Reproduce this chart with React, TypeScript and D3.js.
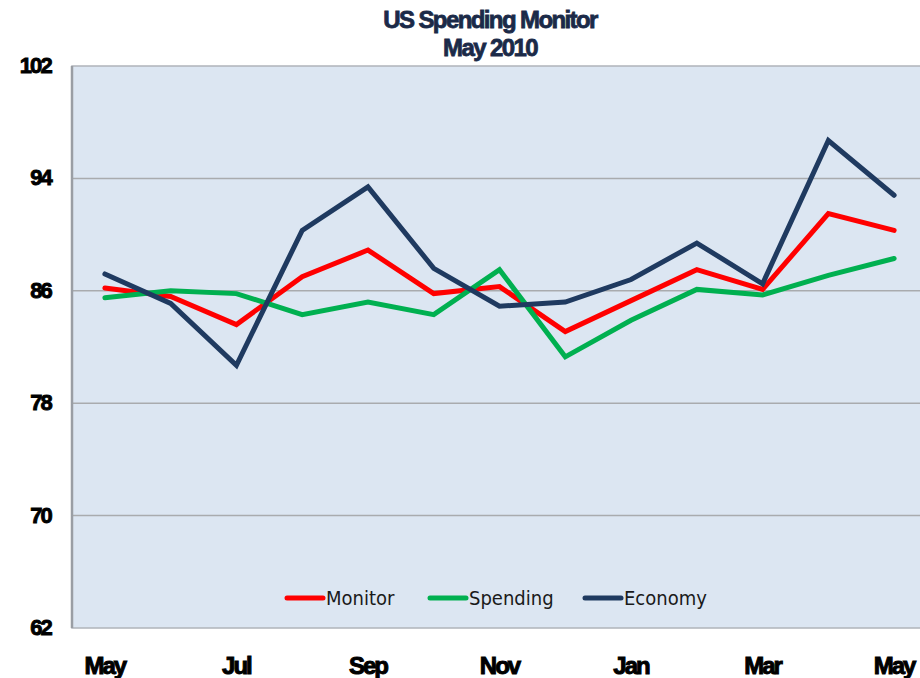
import * as d3 from "d3";

const months = ["May-09", "Jun-09", "Jul-09", "Aug-09", "Sep-09", "Oct-09", "Nov-09", "Dec-09", "Jan-10", "Feb-10", "Mar-10", "Apr-10", "May-10"];
const tickMonths = ["May-09", "Jul-09", "Sep-09", "Nov-09", "Jan-10", "Mar-10", "May-10"];
const monitor = [86.2, 85.6, 83.6, 87.0, 88.9, 85.8, 86.3, 83.1, 85.3, 87.5, 86.1, 91.5, 90.3];
const spending = [85.5, 86.0, 85.8, 84.3, 85.2, 84.3, 87.5, 81.3, 83.9, 86.1, 85.7, 87.1, 88.3];
const economy = [87.2, 85.1, 80.7, 90.3, 93.4, 87.6, 84.9, 85.2, 86.8, 89.4, 86.5, 96.7, 92.8];
const yTicks = [62, 70, 78, 86, 94, 102];

const series = [
  { name: "Monitor", values: monitor, color: "#ff0000" },
  { name: "Spending", values: spending, color: "#00b050" },
  { name: "Economy", values: economy, color: "#1f3a60" },
];

const heavy = "Liberation Sans, Arial, sans-serif";

export default function App() {
  const W = 920, H = 678;
  const left = 72, right = 927, top = 66, bottom = 628;

  const x = d3.scalePoint<string>().domain(months).range([left, right]).padding(0.5);
  const y = d3.scaleLinear().domain([62, 102]).range([bottom, top]);
  const line = d3.line<number>()
    .x((_, i) => x(months[i]) as number)
    .y((d) => y(d));

  const legendItems = [
    { x: 287, textX: 326 },
    { x: 430, textX: 469 },
    { x: 585, textX: 624 },
  ];

  return (
    <svg width={W} height={H} style={{ position: "absolute", left: 0, top: 0, background: "#fff" }}>
      <text x={490} y={28} textAnchor="middle" fontFamily={heavy} fontWeight="bold" fontSize={24}
        letterSpacing={-1.6} fill="#1b2a48" stroke="#1b2a48" strokeWidth={0.8}>US Spending Monitor</text>
      <text x={490} y={56} textAnchor="middle" fontFamily={heavy} fontWeight="bold" fontSize={24}
        letterSpacing={-1.6} fill="#1b2a48" stroke="#1b2a48" strokeWidth={0.8}>May 2010</text>

      <rect x={left} y={top} width={right - left} height={bottom - top} fill="#dce6f2" stroke="#b0b4ba" strokeWidth={1.5} />

      {yTicks.map((t) => (
        <g key={t}>
          {t !== 62 && t !== 102 && (
            <line x1={left} x2={right} y1={y(t)} y2={y(t)} stroke="#a9abae" strokeWidth={1.5} />
          )}
          <text x={51} y={y(t) + 7} textAnchor="end" fontFamily={heavy} fontWeight="bold" fontSize={22}
            letterSpacing={-1.8} fill="#000" stroke="#000" strokeWidth={0.9}>{t}</text>
        </g>
      ))}
      <line x1={left} x2={left} y1={top} y2={bottom} stroke="#9a9ea4" strokeWidth={2.5} />

      {tickMonths.map((m) => (
        <text key={m} x={x(m) as number} y={674} textAnchor="middle" fontFamily={heavy} fontWeight="bold"
          fontSize={24} letterSpacing={-2} fill="#000" stroke="#000" strokeWidth={1}>{m.slice(0, 3)}</text>
      ))}

      {series.map((s) => (
        <path key={s.name} d={line(s.values) as string} fill="none" stroke={s.color} strokeWidth={5}
          strokeLinejoin="miter" strokeLinecap="round" />
      ))}

      {series.map((s, i) => (
        <g key={s.name}>
          <line x1={legendItems[i].x} x2={legendItems[i].x + 36} y1={598} y2={598} stroke={s.color} strokeWidth={5} strokeLinecap="round" />
          <text x={legendItems[i].textX} y={605} fontFamily="Liberation Sans Narrow, DejaVu Sans Condensed, Arial, sans-serif"
            fontSize={20} fill="#1a1a1a">{s.name}</text>
        </g>
      ))}
    </svg>
  );
}
